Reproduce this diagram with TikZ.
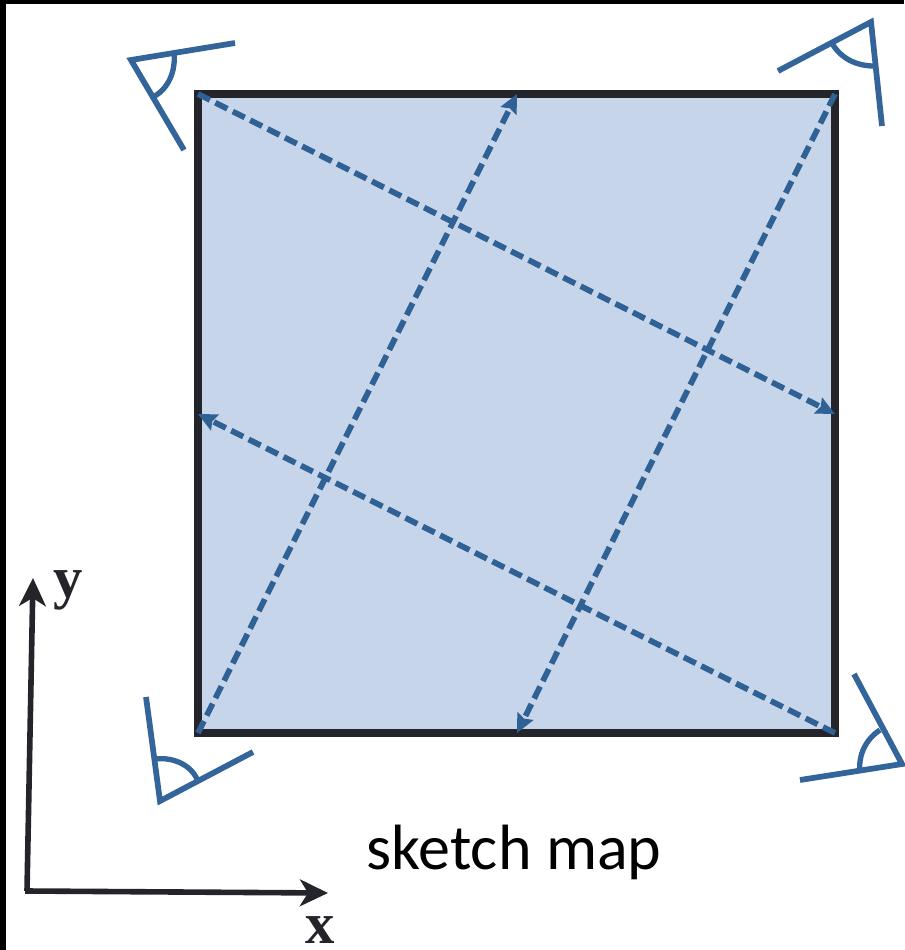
\documentclass[tikz,border=0pt]{standalone}
\usepackage{fontspec}
\setmainfont{Liberation Serif}
\newfontfamily\capfont{Carlito}
\usetikzlibrary{arrows.meta}
\definecolor{eyeblue}{HTML}{33659A}
\definecolor{dashblue}{HTML}{2F6195}
\definecolor{panel}{HTML}{C6D5E9}
\definecolor{ink}{HTML}{23252B}
\tikzset{
  sightline/.style={draw=dashblue,line width=4.3pt,dash pattern=on 10pt off 4.6pt,-{Stealth[length=14pt,width=13pt,inset=2pt]}},
  eyeline/.style={draw=eyeblue,line width=4.3pt,line join=miter},
  eyearc/.style={draw=eyeblue,line width=4pt},
  axisline/.style={draw=ink,line width=4.2pt,-{Stealth[length=21pt,width=20pt,inset=6pt]}},
  axislabel/.style={font=\bfseries\fontsize{44}{44}\selectfont,text=ink,inner sep=0pt,anchor=base}
}
\begin{document}
\begin{tikzpicture}[x=0.75pt,y=-0.75pt]
\useasboundingbox (0,0) rectangle (904,950);
\fill[white] (0,0) rectangle (904,950);
\fill[black] (0,0) rectangle (904,4);
\fill[black] (0,0) rectangle (6,950);
% panel
\coordinate (tl) at (198,94);
\coordinate (tr) at (835,94);
\coordinate (br) at (835,733);
\coordinate (bl) at (198,733);
\coordinate (rm) at (835,414);
\coordinate (lm) at (198,414);
\coordinate (tm) at (517,94);
\coordinate (bm) at (517,733);
\draw[fill=panel,draw=ink,line width=5.6pt] (tl) -- (tr) -- (br) -- (bl) -- cycle;
% sight lines
\draw[sightline] (tl) -- (rm);
\draw[sightline] (br) -- (lm);
\draw[sightline] (bl) -- (tm);
\draw[sightline] (tr) -- (bm);
% eyes
\coordinate (a1) at (131,60);
\coordinate (a2) at (871,22);
\coordinate (a3) at (160,801);
\coordinate (a4) at (902,764);
\draw[eyeline] (235,43) -- (a1) -- (184,150);
\draw[eyeline] (778,71) -- (a2) -- (882,126);
\draw[eyeline] (146,697) -- (a3) -- (253,752);
\draw[eyeline] (854,674) -- (a4) -- (800,780);
\draw[eyearc] (174,52) .. controls (176,72) and (168,88) .. (155,96);
\draw[eyearc] (833,45) .. controls (843,60) and (858,66) .. (874,66);
\draw[eyearc] (156,759) .. controls (172,757) and (190,764) .. (197,779);
\draw[eyearc] (860,772) .. controls (858,755) and (866,739) .. (880,730);
% axes
\coordinate (org) at (27,891);
\coordinate (yend) at (33,578);
\coordinate (xend) at (328,893);
\draw[axisline] (org) -- (yend);
\draw[axisline] (org) -- (xend);
\draw[draw=ink,line width=4.2pt] (25.2,891) -- (29,891);
\node[axislabel] (ylab) at (68,597) {y};
\node[axislabel] (xlab) at (320,943) {x};
\node[inner sep=0pt,font=\capfont\fontsize{48}{48}\selectfont,text=black] (cap) at (514,852) {sketch map};
\end{tikzpicture}
\end{document}
